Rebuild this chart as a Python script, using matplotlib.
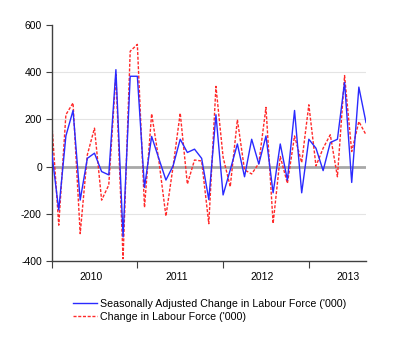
import numpy as np
import matplotlib.pyplot as plt
from matplotlib.ticker import FixedLocator, NullFormatter, FixedFormatter

plt.rcParams['font.family'] = ['Liberation Sans', 'DejaVu Sans']

# monthly changes, Jan 2010 .. Sep 2013 ('000)
seasonally_adjusted = [
    64, -184, 130, 238, -142, 35, 57, -21, -35, 411, -298, 383,
    383, -88, 128, 35, -57, 3, 116, 60, 74, 35, -140, 220,
    -120, -14, 96, -43, 116, 11, 130, -111, 96, -57, 238, -111,
    116, 78, -17, 102, 116, 357, -67, 337, 187,
]
unadjusted = [
    199, -248, 220, 270, -284, 50, 163, -142, -78, 390, -390, 489,
    518, -173, 224, 28, -210, 0, 227, -74, 28, 24, -242, 340,
    40, -85, 199, -14, -31, 14, 251, -241, 43, -71, 130, 17,
    262, 3, 78, 135, -43, 386, 64, 191, 135,
]
years = ['2010', '2011', '2012', '2013']
y_ticks = [-400, -200, 0, 200, 400, 600]

months = np.arange(len(seasonally_adjusted))

fig = plt.figure(figsize=(4.0, 3.48), dpi=100)
ax = fig.add_axes([0.129, 0.25, 0.786, 0.678])

for y in [-200, 200, 400]:
    ax.axhline(y, color='#e4e4e4', lw=0.8, zorder=0)
ax.axhline(0, color='#a8a8a8', lw=2.0, zorder=1)

ax.plot(months, seasonally_adjusted, color='#2a2aff', lw=1.0,
        label="Seasonally Adjusted Change in Labour Force ('000)", zorder=3)
ax.plot(months, unadjusted, color='#ff2a2a', lw=1.0, ls=(0, (2.2, 1.2)),
        label="Change in Labour Force ('000)", zorder=2)

ax.set_xlim(0, len(months) - 1)
ax.set_ylim(-400, 600)
ax.set_yticks(y_ticks)
ax.set_yticklabels([str(v) for v in y_ticks])

# year boundaries get the ticks, year names sit mid-year
ax.xaxis.set_major_locator(FixedLocator([0, 12, 24, 36]))
ax.xaxis.set_major_formatter(NullFormatter())
ax.xaxis.set_minor_locator(FixedLocator([5.5, 17.5, 29.5, 41.5]))
ax.xaxis.set_minor_formatter(FixedFormatter(years))
ax.tick_params(axis='x', which='major', length=5, width=0.8, color='#404040')
ax.tick_params(axis='x', which='minor', length=0, pad=8, labelsize=7.5)
ax.tick_params(axis='y', length=4, width=0.8, color='#404040', labelsize=7.5, pad=3)

for side in ['top', 'right']:
    ax.spines[side].set_visible(False)
for side in ['left', 'bottom']:
    ax.spines[side].set_color('#404040')
    ax.spines[side].set_linewidth(1.0)

ax.legend(loc='upper left', bbox_to_anchor=(73 / 400, 1 - 299 / 348),
          bbox_transform=fig.transFigure, frameon=False, fontsize=7.7,
          handlelength=2.2, handletextpad=0.3, borderpad=0, borderaxespad=0,
          labelspacing=0.3)

fig.savefig('out.png', dpi=100)
